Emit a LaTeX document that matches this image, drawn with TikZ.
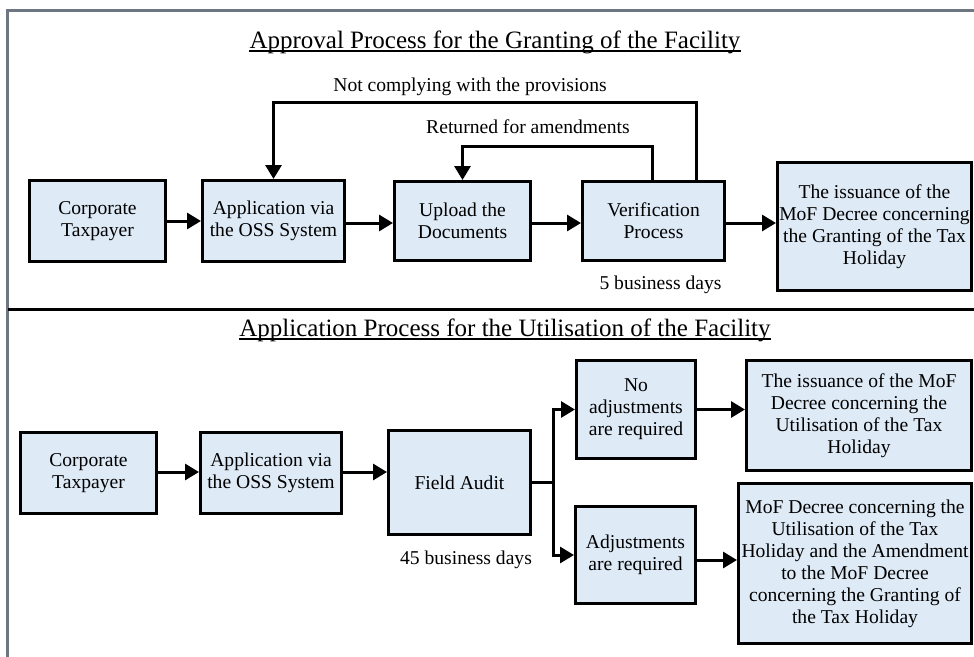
\documentclass[tikz,border=0pt]{standalone}
\usepackage{fontspec}
\setmainfont{Liberation Serif}
\usetikzlibrary{arrows.meta}
\definecolor{boxfill}{HTML}{DEEAF6}
\definecolor{framegray}{HTML}{6E7781}
\tikzset{
  procbox/.style={draw=black, line width=3pt, fill=boxfill, inner sep=0pt,
    align=center, font=\fontsize{19.6}{22}\selectfont},
  arr/.style={line width=3pt, -{Triangle[length=14pt,width=16pt]}},
  plainline/.style={line width=3pt},
  lbl/.style={inner sep=0pt, font=\fontsize{19.6}{22}\selectfont},
  ttl/.style={inner sep=0pt, font=\fontsize{25}{29}\selectfont, anchor=base},
  uline/.style={line width=1.6pt}
}
\begin{document}
\begin{tikzpicture}[x=1pt,y=-1pt]
\useasboundingbox (0,0) rectangle (974,656);
\clip (0,0) rectangle (974,656);
% outer frame (right and bottom edges fall outside the page)
\draw[framegray, line width=3pt] (7,10.5) rectangle (990,670);
% divider between the two processes
\draw[line width=3pt] (8,309) -- (980,309);

% ---------- approval process ----------
\node[ttl] (t1) at (495,48) {Approval Process for the Granting of the Facility};
\draw[uline] ([yshift=-3]t1.base west) -- ([yshift=-3]t1.base east);

\node[procbox, minimum width=136, minimum height=81] (ct1) at (97.5,221) {Corporate\\Taxpayer};
\node[procbox, minimum width=142, minimum height=81] (app1) at (273.5,221) {Application via\\the OSS System};
\node[procbox, minimum width=136, minimum height=79] (up1) at (462.5,221) {Upload the\\Documents};
\node[procbox, minimum width=142, minimum height=79] (ver1) at (653.5,221) {Verification\\Process};
\node[procbox, minimum width=194, minimum height=128] (iss1) at (874.5,226.5)
  {The issuance of the\\MoF Decree concerning\\the Granting of the Tax\\Holiday};

\draw[arr] (ct1.east) -- (app1.west);
\draw[arr] ([yshift=-2]app1.east) -- ([yshift=-2]up1.west);
\draw[arr] ([yshift=-2]up1.east) -- ([yshift=-2]ver1.west);
\draw[arr] ([yshift=-2]ver1.east) -- ([yshift=-2]ver1.east -| iss1.west);

\coordinate (ncLevel) at (0,102);
\coordinate (raLevel) at (0,146);
\draw[arr] ([xshift=42.5]ver1.north) |- (app1.north |- ncLevel) -- (app1.north);
\draw[arr] ([xshift=-1.5]ver1.north) |- (up1.north |- raLevel) -- (up1.north);

\node[lbl] (nc) at (470,87) {Not complying with the provisions};
\node[lbl] (ra) at (528,127) {Returned for amendments};
\node[lbl] (d5) at (660.5,285) {5 business days};

% ---------- utilisation process ----------
\node[ttl] (t2) at (505,336) {Application Process for the Utilisation of the Facility};
\draw[uline] ([yshift=-3]t2.base west) -- ([yshift=-3]t2.base east);

\node[procbox, minimum width=136, minimum height=81] (ct2) at (88.5,473) {Corporate\\Taxpayer};
\node[procbox, minimum width=141, minimum height=81] (app2) at (271,473) {Application via\\the OSS System};
\node[procbox, minimum width=142, minimum height=104] (fa) at (459.5,482.5) {Field Audit};
\node[procbox, minimum width=119, minimum height=98] (noadj) at (636,409.5) {No\\adjustments\\are required};
\node[procbox, minimum width=120, minimum height=97] (adj) at (635.5,555) {Adjustments\\are required};
\node[procbox, minimum width=225, minimum height=110] (iss2) at (859,415.5)
  {The issuance of the MoF\\Decree concerning the\\Utilisation of the Tax\\Holiday};
\node[procbox, minimum width=233, minimum height=160] (dec) at (855,563.5)
  {MoF Decree concerning the\\Utilisation of the Tax\\Holiday and the Amendment\\to the MoF Decree\\concerning the Granting of\\the Tax Holiday};

\draw[arr] ([yshift=1]ct2.east) -- ([yshift=1]app2.west);
\draw[arr] ([yshift=1]app2.east) -- ([yshift=1]app2.east -| fa.west);

\coordinate (br) at (553,482);
\draw[plainline] (fa.east |- br) -- (br);
\draw[arr] (br) |- (noadj.west);
\draw[arr] (br) |- (adj.west);
\draw[arr] (noadj.east) -- (noadj.east -| iss2.west);
\draw[arr] ([yshift=-5]adj.east) -- ([yshift=-5]adj.east -| dec.west);

\node[lbl] (d45) at (466,560) {45 business days};
\end{tikzpicture}
\end{document}
